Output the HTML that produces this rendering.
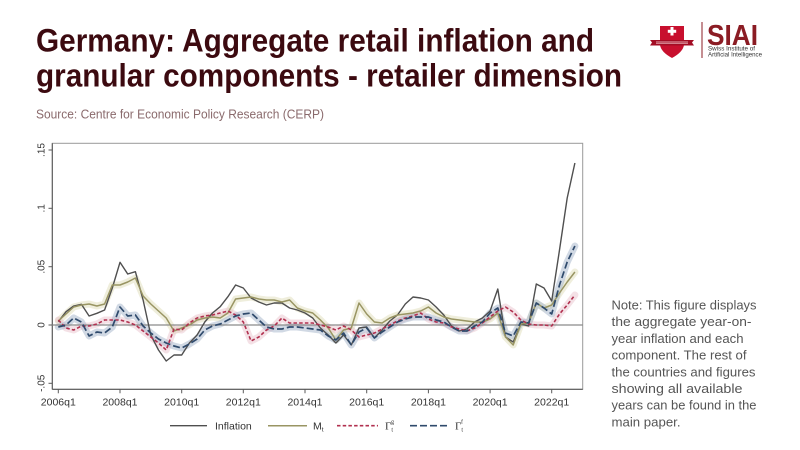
<!DOCTYPE html>
<html><head><meta charset="utf-8"><style>
html,body{margin:0;padding:0;background:#fff;}
svg{display:block;}
</style></head><body>
<svg width="800" height="450" viewBox="0 0 800 450" xmlns="http://www.w3.org/2000/svg">
<rect x="0" y="0" width="800" height="450" fill="#fff"/>
<!-- Title -->
<g font-family="Liberation Sans, sans-serif" font-weight="bold" fill="#3c0a10" font-size="32.5">
<text x="36" y="51.7" textLength="558" lengthAdjust="spacingAndGlyphs">Germany: Aggregate retail inflation and</text>
<text x="36" y="86.7" textLength="586" lengthAdjust="spacingAndGlyphs">granular components - retailer dimension</text>
</g>
<text x="36" y="118.3" font-family="Liberation Sans, sans-serif" font-size="12.5" fill="#8a6a6c" textLength="288" lengthAdjust="spacingAndGlyphs">Source: Centre for Economic Policy Research (CERP)</text>

<!-- Logo -->
<g>
<path d="M660,26 L684,26 L684,45 Q683,52 672,58 Q661,52 660,45 Z" fill="#c8102e"/>
<path d="M650,40 L694,40 L692,42.5 L694,45.5 L650,45.5 L652,42.5 Z" fill="#a30d24"/>
<rect x="656" y="41.6" width="32" height="0.8" fill="#f3c9cf"/>
<rect x="656" y="43.4" width="32" height="0.6" fill="#f3c9cf"/>
<rect x="670.5" y="27" width="3" height="8.5" fill="#fff"/>
<rect x="667.8" y="29.8" width="8.4" height="3" fill="#fff"/>
<line x1="702" y1="22" x2="702" y2="58" stroke="#8b1c24" stroke-width="1"/>
<text x="707" y="45" font-family="Liberation Sans, sans-serif" font-weight="bold" font-size="29" fill="#8b1c24" textLength="51" lengthAdjust="spacingAndGlyphs">SIAI</text>
<text x="708" y="50.5" font-family="Liberation Sans, sans-serif" font-size="6.5" fill="#333" textLength="47" lengthAdjust="spacingAndGlyphs">Swiss Institute of</text>
<text x="708" y="56.5" font-family="Liberation Sans, sans-serif" font-size="6.5" fill="#333" textLength="54" lengthAdjust="spacingAndGlyphs">Artificial Intelligence</text>
</g>

<!-- Plot frame -->
<rect x="52.3" y="143.3" width="530.4" height="246" fill="none" stroke="#9a9a9a" stroke-width="1"/>
<line x1="52.3" y1="143.3" x2="52.3" y2="389.3" stroke="#5a5a5a" stroke-width="1.1"/>
<line x1="52.3" y1="389.3" x2="582.7" y2="389.3" stroke="#5a5a5a" stroke-width="1.1"/>

<!-- Y ticks -->
<g stroke="#5a5a5a" stroke-width="1">
<line x1="48.5" y1="150" x2="52.3" y2="150"/>
<line x1="48.5" y1="208.3" x2="52.3" y2="208.3"/>
<line x1="48.5" y1="266.7" x2="52.3" y2="266.7"/>
<line x1="48.5" y1="325" x2="52.3" y2="325"/>
<line x1="48.5" y1="383.3" x2="52.3" y2="383.3"/>
</g>
<g font-family="Liberation Sans, sans-serif" font-size="10" fill="#333" text-anchor="middle">
<text transform="translate(44.5,150) rotate(-90)">.15</text>
<text transform="translate(44.5,208.3) rotate(-90)">.1</text>
<text transform="translate(44.5,266.7) rotate(-90)">.05</text>
<text transform="translate(44.5,325) rotate(-90)">0</text>
<text transform="translate(44.5,383.3) rotate(-90)">-.05</text>
</g>

<!-- X ticks -->
<g stroke="#5a5a5a" stroke-width="1">
<line x1="58.3" y1="389.3" x2="58.3" y2="393.3"/>
<line x1="120" y1="389.3" x2="120" y2="393.3"/>
<line x1="181.7" y1="389.3" x2="181.7" y2="393.3"/>
<line x1="243.3" y1="389.3" x2="243.3" y2="393.3"/>
<line x1="305" y1="389.3" x2="305" y2="393.3"/>
<line x1="366.7" y1="389.3" x2="366.7" y2="393.3"/>
<line x1="428.4" y1="389.3" x2="428.4" y2="393.3"/>
<line x1="490.1" y1="389.3" x2="490.1" y2="393.3"/>
<line x1="551.7" y1="389.3" x2="551.7" y2="393.3"/>
</g>
<g font-family="Liberation Sans, sans-serif" font-size="10.5" fill="#333" text-anchor="middle">
<text x="58.3" y="405.5">2006q1</text>
<text x="120" y="405.5">2008q1</text>
<text x="181.7" y="405.5">2010q1</text>
<text x="243.3" y="405.5">2012q1</text>
<text x="305" y="405.5">2014q1</text>
<text x="366.7" y="405.5">2016q1</text>
<text x="428.4" y="405.5">2018q1</text>
<text x="490.1" y="405.5">2020q1</text>
<text x="551.7" y="405.5">2022q1</text>
</g>

<!-- Confidence bands -->
<g fill="none" stroke-linejoin="round" stroke-linecap="round" stroke-width="7">
<polyline stroke="#dcd9b2" stroke-opacity="0.45" points="58.3,321 66,314 73.7,307 81.4,305 89.1,304 96.9,306 104.6,304 112.3,285 120,285 127.7,282 135.4,278 143.1,296 150.8,304 158.5,311 166.2,318 174,331 181.7,328 189.4,325 197.1,320 204.8,318 212.5,317 220.2,318 227.9,313 235.6,299 243.3,298 251.1,297 258.8,299 266.5,300 274.2,300 281.9,302 289.6,300 297.3,308 305,311 312.7,313 320.4,320 328.2,328 335.9,340 343.6,330 351.3,328 359,303 366.7,314 374.4,322 382.1,323 389.8,318 397.5,315 405.3,314 413,313 420.7,311 428.4,307 436.1,313 443.8,317 451.5,319 459.2,320 466.9,321 474.6,322 482.4,322 490.1,319 497.8,313 505.5,337 513.2,345 520.9,324 528.6,323 536.3,303 544,308 551.7,305 559.5,293 567.2,282 574.9,272"/>
<polyline stroke="#e6bcc7" stroke-opacity="0.45" points="58.3,320 66,328 73.7,330 81.4,326 89.1,326 96.9,324 104.6,320 112.3,320 120,320 127.7,322 135.4,325 143.1,331 150.8,337 158.5,343 166.2,350 174,329 181.7,330 189.4,323 197.1,318 204.8,316 212.5,315 220.2,313 227.9,311 235.6,315 243.3,322 251.1,341 258.8,337 266.5,330 274.2,326 281.9,318 289.6,323 297.3,323 305,323 312.7,323 320.4,325 328.2,327 335.9,330 343.6,326 351.3,330 359,337 366.7,335 374.4,333 382.1,329 389.8,325 397.5,321 405.3,318 413,316 420.7,313 428.4,319 436.1,322 443.8,323 451.5,327 459.2,329 466.9,331 474.6,328 482.4,323 490.1,317 497.8,311 505.5,307 513.2,312 520.9,320 528.6,324 536.3,325 544,325 551.7,326 559.5,314 567.2,305 574.9,295"/>
<polyline stroke="#a3b3ca" stroke-opacity="0.5" points="58.3,327 66,325 73.7,318 81.4,322 89.1,336 96.9,332 104.6,333 112.3,327 120,307 127.7,316 135.4,315 143.1,326 150.8,333 158.5,339 166.2,343 174,346 181.7,348 189.4,344 197.1,339 204.8,330 212.5,326 220.2,324 227.9,320 235.6,316 243.3,314 251.1,313 258.8,320 266.5,327 274.2,329 281.9,329 289.6,327 297.3,327 305,328 312.7,329 320.4,330 328.2,336 335.9,340 343.6,333 351.3,345 359,332 366.7,328 374.4,338 382.1,332 389.8,327 397.5,322 405.3,319 413,317 420.7,317 428.4,317 436.1,320 443.8,322 451.5,327 459.2,331 466.9,331 474.6,326 482.4,322 490.1,313 497.8,308 505.5,333 513.2,336 520.9,322 528.6,323 536.3,303 544,308 551.7,314 559.5,285 567.2,262 574.9,246"/>
</g>

<!-- zero line -->
<line x1="52.3" y1="325" x2="582.7" y2="325" stroke="#8a8a8a" stroke-width="1.2"/>

<!-- Series -->
<g fill="none" stroke-linejoin="round">
<polyline stroke="#4f4f4f" stroke-width="1.4" points="58.3,321.7 66,311.7 73.7,306 81.4,304.3 89.1,316 96.9,313.3 104.6,310 112.3,288 120,262.3 127.7,274 135.4,271.7 143.1,300 150.8,335 158.5,350 166.2,361 174,355 181.7,355 189.4,343 197.1,335 204.8,322 212.5,313 220.2,306.7 227.9,296.7 235.6,285 243.3,288 251.1,298 258.8,302 266.5,305 274.2,303 281.9,303 289.6,308 297.3,310 305,313 312.7,318 320.4,328 328.2,335 335.9,343 343.6,335 351.3,345 359,328 366.7,327 374.4,338 382.1,330 389.8,321 397.5,315 405.3,304 413,297 420.7,298 428.4,300 436.1,307 443.8,315 451.5,326 459.2,331 466.9,329 474.6,322 482.4,318 490.1,311 497.8,289 505.5,337 513.2,342 520.9,324 528.6,326 536.3,284 544,288 551.7,301 559.5,250 567.2,198 574.9,163"/>
<polyline stroke="#999563" stroke-width="1.5" points="58.3,321 66,314 73.7,307 81.4,305 89.1,304 96.9,306 104.6,304 112.3,285 120,285 127.7,282 135.4,278 143.1,296 150.8,304 158.5,311 166.2,318 174,331 181.7,328 189.4,325 197.1,320 204.8,318 212.5,317 220.2,318 227.9,313 235.6,299 243.3,298 251.1,297 258.8,299 266.5,300 274.2,300 281.9,302 289.6,300 297.3,308 305,311 312.7,313 320.4,320 328.2,328 335.9,340 343.6,330 351.3,328 359,303 366.7,314 374.4,322 382.1,323 389.8,318 397.5,315 405.3,314 413,313 420.7,311 428.4,307 436.1,313 443.8,317 451.5,319 459.2,320 466.9,321 474.6,322 482.4,322 490.1,319 497.8,313 505.5,337 513.2,345 520.9,324 528.6,323 536.3,303 544,308 551.7,305 559.5,293 567.2,282 574.9,272"/>
<polyline stroke="#b1304f" stroke-width="1.6" stroke-dasharray="3.5,2.2" points="58.3,320 66,328 73.7,330 81.4,326 89.1,326 96.9,324 104.6,320 112.3,320 120,320 127.7,322 135.4,325 143.1,331 150.8,337 158.5,343 166.2,350 174,329 181.7,330 189.4,323 197.1,318 204.8,316 212.5,315 220.2,313 227.9,311 235.6,315 243.3,322 251.1,341 258.8,337 266.5,330 274.2,326 281.9,318 289.6,323 297.3,323 305,323 312.7,323 320.4,325 328.2,327 335.9,330 343.6,326 351.3,330 359,337 366.7,335 374.4,333 382.1,329 389.8,325 397.5,321 405.3,318 413,316 420.7,313 428.4,319 436.1,322 443.8,323 451.5,327 459.2,329 466.9,331 474.6,328 482.4,323 490.1,317 497.8,311 505.5,307 513.2,312 520.9,320 528.6,324 536.3,325 544,325 551.7,326 559.5,314 567.2,305 574.9,295"/>
<polyline stroke="#2f4a6c" stroke-width="1.7" stroke-dasharray="7,3" points="58.3,327 66,325 73.7,318 81.4,322 89.1,336 96.9,332 104.6,333 112.3,327 120,307 127.7,316 135.4,315 143.1,326 150.8,333 158.5,339 166.2,343 174,346 181.7,348 189.4,344 197.1,339 204.8,330 212.5,326 220.2,324 227.9,320 235.6,316 243.3,314 251.1,313 258.8,320 266.5,327 274.2,329 281.9,329 289.6,327 297.3,327 305,328 312.7,329 320.4,330 328.2,336 335.9,340 343.6,333 351.3,345 359,332 366.7,328 374.4,338 382.1,332 389.8,327 397.5,322 405.3,319 413,317 420.7,317 428.4,317 436.1,320 443.8,322 451.5,327 459.2,331 466.9,331 474.6,326 482.4,322 490.1,313 497.8,308 505.5,333 513.2,336 520.9,322 528.6,323 536.3,303 544,308 551.7,314 559.5,285 567.2,262 574.9,246"/>
</g>

<!-- Legend -->
<g font-family="Liberation Sans, sans-serif" font-size="10.5" fill="#333">
<line x1="170" y1="425.7" x2="207" y2="425.7" stroke="#4f4f4f" stroke-width="1.4"/>
<text x="215" y="429.5">Inflation</text>
<line x1="268" y1="425.7" x2="307" y2="425.7" stroke="#999563" stroke-width="1.5"/>
<text x="313" y="429.5">M<tspan font-size="6.5" dy="2">t</tspan></text>
<line x1="337" y1="425.7" x2="378" y2="425.7" stroke="#b1304f" stroke-width="1.6" stroke-dasharray="3.5,2.2"/>
<text x="385" y="429.5" font-family="Liberation Serif, serif" font-size="11">Γ<tspan font-size="6" dy="2">t</tspan><tspan font-size="6" dx="-2" dy="-8">g</tspan></text>
<line x1="410" y1="425.7" x2="447" y2="425.7" stroke="#2f4a6c" stroke-width="1.7" stroke-dasharray="7,3"/>
<text x="455" y="429.5" font-family="Liberation Serif, serif" font-size="11">Γ<tspan font-size="6" dy="2">t</tspan><tspan font-size="6" dx="-2" dy="-8">f</tspan></text>
</g>

<!-- Note -->
<g font-family="Liberation Sans, sans-serif" font-size="13" fill="#555">
<text x="611.5" y="309.5" textLength="145" lengthAdjust="spacingAndGlyphs">Note: This figure displays</text>
<text x="611.5" y="326.2" textLength="140" lengthAdjust="spacingAndGlyphs">the aggregate year-on-</text>
<text x="611.5" y="342.9" textLength="132" lengthAdjust="spacingAndGlyphs">year inflation and each</text>
<text x="611.5" y="359.6" textLength="135" lengthAdjust="spacingAndGlyphs">component. The rest of</text>
<text x="611.5" y="376.3" textLength="144" lengthAdjust="spacingAndGlyphs">the countries and figures</text>
<text x="611.5" y="393" textLength="131" lengthAdjust="spacingAndGlyphs">showing all available</text>
<text x="611.5" y="409.7" textLength="145" lengthAdjust="spacingAndGlyphs">years can be found in the</text>
<text x="611.5" y="426.4" textLength="69" lengthAdjust="spacingAndGlyphs">main paper.</text>
</g>
</svg>
</body></html>
